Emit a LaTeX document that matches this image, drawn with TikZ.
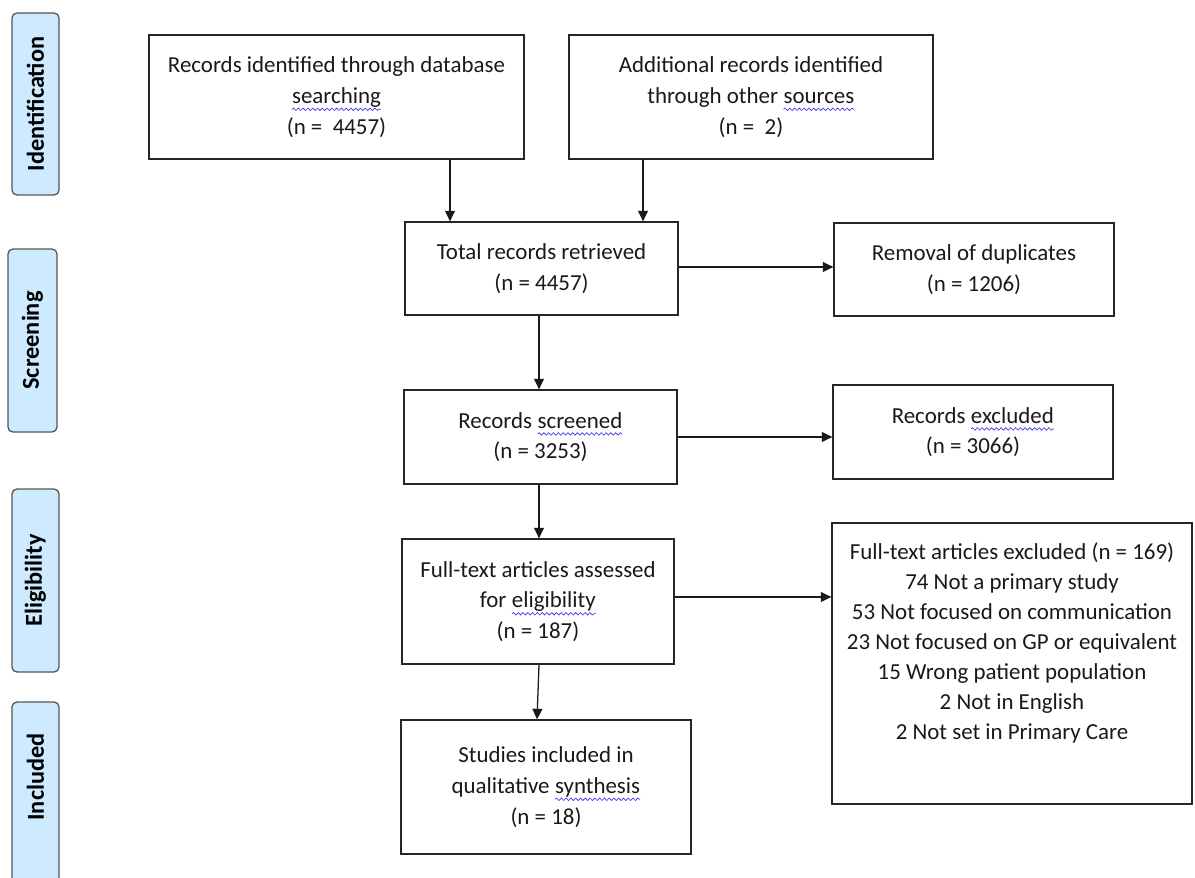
\documentclass[tikz,border=0pt]{standalone}
\usepackage{fontspec}
\setmainfont{Carlito}
\usetikzlibrary{arrows.meta,decorations.pathmorphing}
\definecolor{lblue}{RGB}{206,234,255}
\definecolor{lborder}{RGB}{85,85,85}
\definecolor{spellblue}{RGB}{50,50,235}
\newcommand\spell[1]{\tikz[baseline=(sw.base)]{\node[draw=none, fill=none, minimum width=0pt, minimum height=0pt,
    inner sep=0pt, outer sep=0pt, anchor=base west, rectangle] (sw) at (0,0) {#1};
  \draw[spellblue, line width=0.45pt, decorate, decoration={snake, amplitude=0.9pt, segment length=3.4pt}]
  ([yshift=-4.2pt]sw.base west) -- ([yshift=-4.2pt]sw.base east);}}
\begin{document}
\begin{tikzpicture}[x=0.025cm,y=-0.025cm,
  sz/.style 2 args={minimum width=#1*0.025cm, minimum height=#2*0.025cm},
  box/.style={draw=black!85, line width=0.9pt, align=center, inner sep=0pt,
    font=\fontsize{16.3}{21.8}\selectfont, text=black!90},
  phase/.style={draw=lborder, fill=lblue, line width=0.9pt, rounded corners=3.5pt,
    rotate=90, font=\fontsize{17.3}{20}\selectfont\bfseries, inner sep=0pt},
  arr/.style={-{Triangle[length=7.5pt,width=7pt]}, line width=0.9pt, black!90}]
\useasboundingbox (0,0) rectangle (1195,878);

% phase labels
\node[phase, sz={182}{47}] (pid) at (35.5,104) {Identification};
\node[phase, sz={183}{49}] (psc) at (32.5,340.5) {Screening};
\node[phase, sz={183}{47}] (pel) at (35.5,580.5) {Eligibility};
\node[phase, sz={183}{47}] (pin) at (35.5,793.5) {\hspace*{23.5pt}Included};

% boxes
\node[box, sz={375}{124}] (b1) at (336.5,97) {Records identified through database\\\spell{searching}\\(n = \ 4457)};
\node[box, sz={364}{124}] (b2) at (751,97) {Additional records identified\\through other \spell{sources}\\(n = \ 2)};
\node[box, sz={273}{93}] (b3) at (541.5,268.5) {Total records retrieved\\(n = 4457)};
\node[box, sz={280}{93}] (b4) at (974,269.5) {Removal of duplicates\\(n = 1206)};
\node[box, sz={273}{94}] (b5) at (540.5,437) {Records \spell{screened}\\(n = 3253)};
\node[box, sz={280}{94}] (b6) at (973,432) {Records \spell{excluded}\\(n = 3066)};
\node[box, sz={272}{125}] (b7) at (538,601.5) {Full-text articles assessed\\for \spell{eligibility}\\(n = 187)};
\node[box, sz={360}{281}] (b8) at (1012,663.5) {\parbox[c][199.9pt][t]{250pt}{\fontsize{16.3}{21.3}\selectfont\centering\vspace*{14pt}%
Full-text articles excluded (n = 169)\\
74 Not a primary study\\
53 Not focused on communication\\
23 Not focused on GP or equivalent\\
15 Wrong patient population\\
2 Not in English\\
2 Not set in Primary Care\par}};
\node[box, sz={290}{134}] (b9) at (546,787) {Studies included in\\qualitative \spell{synthesis}\\(n = 18)};

% guide coordinates
\coordinate (xA) at (450,0);
\coordinate (xB) at (643,0);
\coordinate (xC) at (539,0);
\coordinate (xD) at (537,0);
\coordinate (yA) at (0,267);
\coordinate (yB) at (0,437);
\coordinate (yC) at (0,597);

% connectors
\draw[arr] (b1.south -| xA) -- (b3.north -| xA);
\draw[arr] (b2.south -| xB) -- (b3.north -| xB);
\draw[arr] (b3.south -| xC) -- (b5.north -| xC);
\draw[arr] (b5.south -| xC) -- (b7.north -| xC);
\draw[arr] (b7.south -| xC) -- (b9.north -| xD);
\draw[arr] (b3.east |- yA) -- (b4.west |- yA);
\draw[arr] (b5.east |- yB) -- (b6.west |- yB);
\draw[arr] (b7.east |- yC) -- (b8.west |- yC);
\end{tikzpicture}
\end{document}
